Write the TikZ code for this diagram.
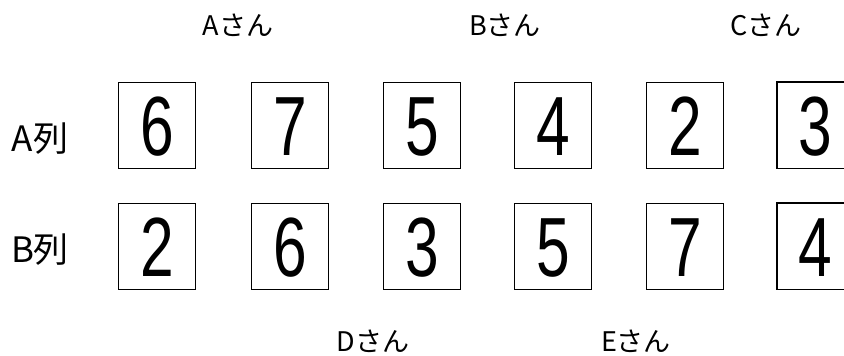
\documentclass[tikz,border=0pt]{standalone}
\usepackage{fontspec}
\setmainfont{Liberation Sans}
\newfontfamily\jpfont{Noto Sans CJK JP}
\begin{document}
\begin{tikzpicture}[x=1pt,y=-1pt,
  card/.style={draw=black,line width=1.3pt,minimum width=77pt,minimum height=86pt,inner sep=0pt,anchor=north west},
  edgecard/.style={minimum width=77pt,minimum height=86pt,inner sep=0pt,anchor=north west},
  edgeline/.style={draw=black,line width=1.3pt},
  digit/.style={font=\fontsize{84}{84}\selectfont,xscale=0.72,inner sep=0pt},
  person/.style={font=\jpfont\fontsize{27}{27}\selectfont,inner sep=0pt},
  rowlab/.style={font=\jpfont\fontsize{35}{35}\selectfont,inner sep=0pt}]
\useasboundingbox (0,0) rectangle (844,356);
% row labels
\node[rowlab] (la) at (40,139) {A列};
\node[rowlab] (lb) at (40,250) {B列};
% person labels
\node[person] (pa) at (238,25) {Aさん};
\node[person] (pb) at (505,25) {Bさん};
\node[person] (pc) at (766,25) {Cさん};
\node[person] (pd) at (373,341) {Dさん};
\node[person] (pe) at (636,341) {Eさん};
% row A
\node[card] (a1) at (118,82) {};
\node[card] (a2) at (251,82) {};
\node[card] (a3) at (383,82) {};
\node[card] (a4) at (514,82) {};
\node[card] (a5) at (646,82) {};
\node[edgecard] (a6) at (777,82) {};
% row B
\node[card] (b1) at (118,203) {};
\node[card] (b2) at (251,203) {};
\node[card] (b3) at (383,203) {};
\node[card] (b4) at (514,203) {};
\node[card] (b5) at (646,203) {};
\node[edgecard] (b6) at (777,203) {};
% open-ended cards at the right edge
\draw[edgeline] (a6.north east) -- (a6.north west) -- (a6.south west) -- (a6.south east);
\draw[edgeline] (b6.north east) -- (b6.north west) -- (b6.south west) -- (b6.south east);
% digits
\foreach \n/\d in {a1/6,a2/7,a3/5,a4/4,a5/2,a6/3,b1/2,b2/6,b3/3,b4/5,b5/7,b6/4}
  \node[digit] (d\n) at ([yshift=-1pt]\n.center) {\d};
\end{tikzpicture}
\end{document}
